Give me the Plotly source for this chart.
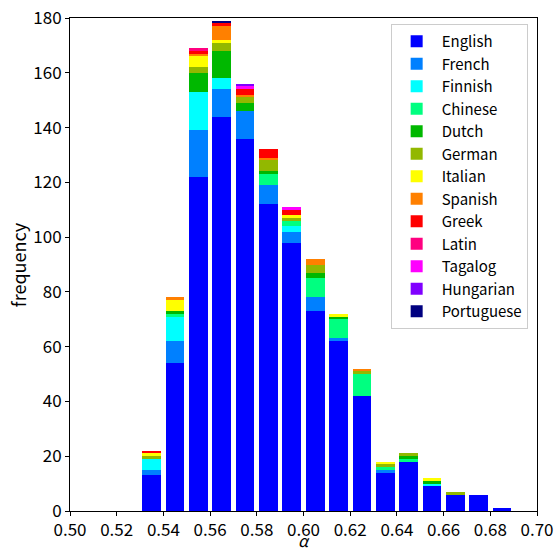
import plotly.graph_objects as go

# histogram bin centres (alpha)
bin_centers = [0.535, 0.545, 0.555, 0.565, 0.575, 0.585, 0.595, 0.605,
               0.615, 0.625, 0.635, 0.645, 0.655, 0.665, 0.675, 0.685]

languages = ["English", "French", "Finnish", "Chinese", "Dutch", "German", "Italian",
             "Spanish", "Greek", "Latin", "Tagalog", "Hungarian", "Portuguese"]

english    = [13, 54, 122, 144, 136, 112, 98, 73, 62, 42, 14, 18, 9, 6, 6, 1]
french     = [2, 8, 17, 10, 10, 7, 4, 5, 1, 0, 1, 0, 0, 0, 0, 0]
finnish    = [4, 9, 14, 4, 0, 0, 2, 0, 0, 0, 0, 0, 1, 0, 0, 0]
chinese    = [0, 1, 0, 0, 0, 4, 2, 7, 7, 8, 1, 1, 0, 0, 0, 0]
dutch      = [0, 1, 7, 10, 3, 1, 0, 2, 1, 0, 0, 1, 1, 0, 0, 0]
german     = [1, 0, 2, 3, 2, 4, 1, 3, 0, 1, 1, 1, 0, 1, 0, 0]
italian    = [1, 4, 4, 1, 0, 0, 1, 0, 1, 0, 1, 0, 1, 0, 0, 0]
spanish    = [0, 1, 1, 5, 1, 1, 0, 2, 0, 1, 0, 0, 0, 0, 0, 0]
greek      = [1, 0, 1, 1, 2, 3, 2, 0, 0, 0, 0, 0, 0, 0, 0, 0]
latin      = [0, 0, 1, 0, 0, 0, 0, 0, 0, 0, 0, 0, 0, 0, 0, 0]
tagalog    = [0, 0, 0, 0, 1, 0, 1, 0, 0, 0, 0, 0, 0, 0, 0, 0]
hungarian  = [0, 0, 0, 0, 1, 0, 0, 0, 0, 0, 0, 0, 0, 0, 0, 0]
portuguese = [0, 0, 0, 1, 0, 0, 0, 0, 0, 0, 0, 0, 0, 0, 0, 0]

counts = [english, french, finnish, chinese, dutch, german, italian,
          spanish, greek, latin, tagalog, hungarian, portuguese]

colors = ["#0000FF", "#0080FF", "#00FFFF", "#00FF80", "#00B800", "#92B800", "#FFFF00",
          "#FF8000", "#FF0000", "#FF0080", "#FF00FF", "#8000FF", "#000080"]

x_ticks = [0.50, 0.52, 0.54, 0.56, 0.58, 0.60, 0.62, 0.64, 0.66, 0.68, 0.70]
y_ticks = [0, 20, 40, 60, 80, 100, 120, 140, 160, 180]

FONT = "Noto Sans CJK JP, Noto Sans, DejaVu Sans, sans-serif"

fig = go.Figure()
for name, vals, col in zip(languages, counts, colors):
    fig.add_trace(go.Bar(
        x=bin_centers, y=vals, name=name, width=0.008,
        marker=dict(color=col, line=dict(width=0)),
    ))

fig.update_layout(
    width=556, height=549,
    margin=dict(l=70, r=19, t=18, b=38),
    barmode="stack",
    plot_bgcolor="white", paper_bgcolor="white",
    font=dict(family=FONT, size=17, color="black"),
    legend=dict(
        x=0.98, y=0.988, xanchor="right", yanchor="top",
        traceorder="normal", itemwidth=40,
        bgcolor="white", bordercolor="#cccccc", borderwidth=1,
        font=dict(family=FONT, size=15),
        tracegroupgap=0,
    ),
    xaxis=dict(
        range=[0.50, 0.70], tickvals=x_ticks, tickformat=".2f",
        tickfont=dict(size=17),
        ticks="outside", ticklen=4, tickcolor="black",
        showline=True, linecolor="black", linewidth=1, mirror=True,
        showgrid=False, zeroline=False, automargin=False,
    ),
    yaxis=dict(
        range=[0, 180], tickvals=y_ticks, tickfont=dict(size=17),
        ticks="outside", ticklen=4, tickcolor="black",
        showline=True, linecolor="black", linewidth=1, mirror=True,
        showgrid=False, zeroline=False, automargin=False,
    ),
    annotations=[
        dict(text="<i>α</i>", xref="paper", yref="paper", x=0.5, y=-0.058,
             xanchor="center", yanchor="middle", showarrow=False,
             font=dict(family=FONT, size=16)),
        dict(text="frequency", xref="paper", yref="paper", x=-0.112, y=0.5,
             xanchor="center", yanchor="middle", textangle=-90, showarrow=False,
             font=dict(family=FONT, size=18)),
    ],
)

fig.write_html("out.html")
